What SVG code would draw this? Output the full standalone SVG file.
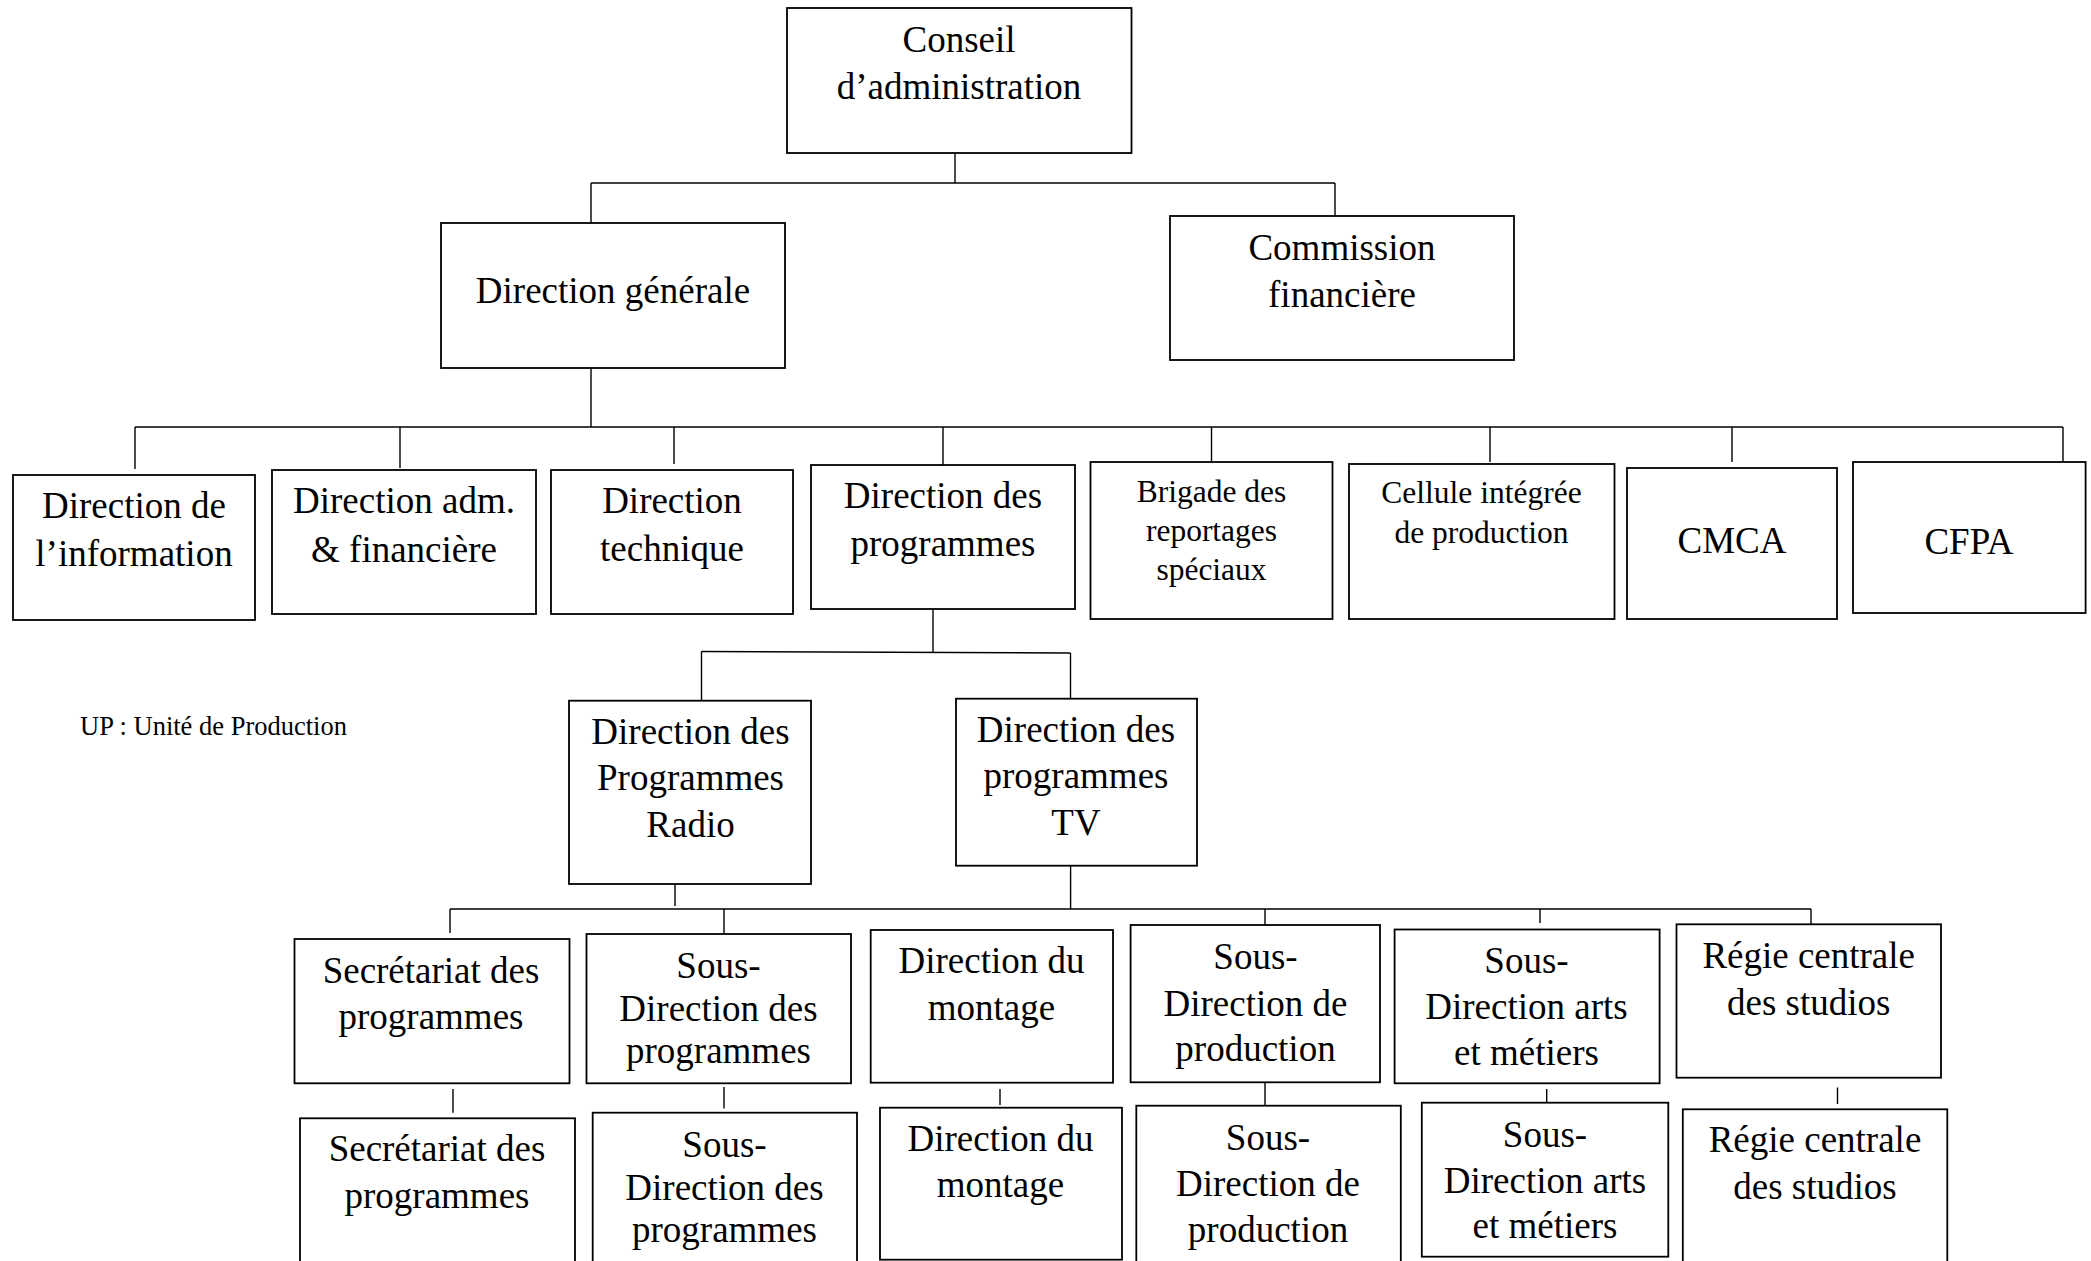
<svg xmlns="http://www.w3.org/2000/svg" width="2091" height="1261" viewBox="0 0 2091 1261">
<style>
.b{fill:#fff;stroke:#000;stroke-width:1.8}
.c line{stroke:#000;stroke-width:1.4}
text{font-family:"Liberation Serif","Times New Roman",serif;fill:#000}
.t{font-size:37px;text-anchor:middle}
.s{font-size:31.5px;text-anchor:middle}
.n{font-size:26.5px}
</style>
<rect width="2091" height="1261" fill="#fff"/>
<g class="c" id="connectors">
<line x1="955" y1="153" x2="955" y2="183"/>
<line x1="591" y1="183" x2="1335" y2="183"/>
<line x1="591" y1="183" x2="591" y2="223"/>
<line x1="1335" y1="183" x2="1335" y2="216"/>
<line x1="591" y1="368" x2="591" y2="427"/>
<line x1="135" y1="427" x2="2063" y2="427"/>
<line x1="135" y1="427" x2="135" y2="469"/>
<line x1="400" y1="427" x2="400" y2="468"/>
<line x1="674" y1="427" x2="674" y2="464"/>
<line x1="943" y1="427" x2="943" y2="465"/>
<line x1="1211.5" y1="427" x2="1211.5" y2="462"/>
<line x1="1490" y1="427" x2="1490" y2="462"/>
<line x1="1732" y1="427" x2="1732" y2="462"/>
<line x1="2063" y1="427" x2="2063" y2="462"/>
<line x1="933" y1="609" x2="933" y2="652"/>
<line x1="701.5" y1="651.5" x2="1070.5" y2="653"/>
<line x1="701.5" y1="651.5" x2="701.5" y2="700.7"/>
<line x1="1070.5" y1="653" x2="1070.5" y2="698.7"/>
<line x1="675" y1="884" x2="675" y2="906"/>
<line x1="1070.6" y1="866" x2="1070.6" y2="909"/>
<line x1="450" y1="909" x2="1811" y2="909"/>
<line x1="450" y1="909" x2="450" y2="933"/>
<line x1="724" y1="909" x2="724" y2="934"/>
<line x1="1265" y1="909" x2="1265" y2="925"/>
<line x1="1540" y1="909" x2="1540" y2="923"/>
<line x1="1811" y1="909" x2="1811" y2="924"/>
<line x1="453" y1="1089" x2="453" y2="1112.7"/>
<line x1="724" y1="1087" x2="724" y2="1108.5"/>
<line x1="1000" y1="1089" x2="1000" y2="1105"/>
<line x1="1265" y1="1082.3" x2="1265" y2="1105.7"/>
<line x1="1546.7" y1="1089" x2="1546.7" y2="1102.7"/>
<line x1="1837.5" y1="1087.5" x2="1837.5" y2="1104"/>
</g>
<g id="conseil"><rect class="b" x="787" y="8" width="344.5" height="145"/><text class="t" x="959" y="52">Conseil</text><text class="t" x="959" y="99">d’administration</text></g>
<g id="dg"><rect class="b" x="441" y="223" width="344" height="145"/><text class="t" x="613" y="303">Direction générale</text></g>
<g id="commission"><rect class="b" x="1170" y="216" width="344" height="144"/><text class="t" x="1342" y="260">Commission</text><text class="t" x="1342" y="307">financière</text></g>
<g id="info"><rect class="b" x="13" y="475" width="242" height="145"/><text class="t" x="134" y="518">Direction de</text><text class="t" x="134" y="566">l’information</text></g>
<g id="adm"><rect class="b" x="272" y="470" width="264" height="144"/><text class="t" x="404" y="513">Direction adm.</text><text class="t" x="404" y="562">&amp; financière</text></g>
<g id="tech"><rect class="b" x="551" y="470" width="242" height="144"/><text class="t" x="672" y="513">Direction</text><text class="t" x="672" y="561">technique</text></g>
<g id="prog"><rect class="b" x="811" y="465" width="264" height="144"/><text class="t" x="943" y="508">Direction des</text><text class="t" x="943" y="556">programmes</text></g>
<g id="brigade"><rect class="b" x="1090.5" y="462" width="242" height="157"/><text class="s" x="1211.5" y="502">Brigade des</text><text class="s" x="1211.5" y="541">reportages</text><text class="s" x="1211.5" y="580">spéciaux</text></g>
<g id="cellule"><rect class="b" x="1349" y="464" width="265.5" height="155"/><text class="s" x="1481.5" y="503">Cellule intégrée</text><text class="s" x="1481.5" y="543">de production</text></g>
<g id="cmca"><rect class="b" x="1627" y="468" width="210" height="151"/><text class="t" x="1732" y="553">CMCA</text></g>
<g id="cfpa"><rect class="b" x="1853" y="462" width="232.6" height="151"/><text class="t" x="1969" y="554">CFPA</text></g>
<g id="legend"><text class="n" x="80" y="735">UP : Unité de Production</text></g>
<g id="radio"><rect class="b" x="569" y="700.7" width="242" height="183.3"/><text class="t" x="690.5" y="744">Direction des</text><text class="t" x="690.5" y="790">Programmes</text><text class="t" x="690.5" y="837">Radio</text></g>
<g id="tv"><rect class="b" x="956" y="698.7" width="241" height="167"/><text class="t" x="1076" y="742">Direction des</text><text class="t" x="1076" y="788">programmes</text><text class="t" x="1076" y="835">TV</text></g>
<g id="secr"><rect class="b" x="294.5" y="939" width="275" height="144.3"/><text class="t" x="431" y="982.7">Secrétariat des</text><text class="t" x="431" y="1029.3">programmes</text></g>
<g id="sdprog"><rect class="b" x="586.5" y="934" width="264.5" height="149.3"/><text class="t" x="718.5" y="978.3">Sous-</text><text class="t" x="718.5" y="1020.7">Direction des</text><text class="t" x="718.5" y="1062.7">programmes</text></g>
<g id="montage"><rect class="b" x="870.7" y="930" width="242.3" height="152.7"/><text class="t" x="991.5" y="973.3">Direction du</text><text class="t" x="991.5" y="1020">montage</text></g>
<g id="sdprod"><rect class="b" x="1130.6" y="925" width="249.4" height="157.3"/><text class="t" x="1255.5" y="969">Sous-</text><text class="t" x="1255.5" y="1015.7">Direction de</text><text class="t" x="1255.5" y="1060.7">production</text></g>
<g id="sdarts"><rect class="b" x="1394.6" y="929.5" width="265" height="153.8"/><text class="t" x="1526.5" y="973.3">Sous-</text><text class="t" x="1526.5" y="1019">Direction arts</text><text class="t" x="1526.5" y="1065">et métiers</text></g>
<g id="regie"><rect class="b" x="1676.5" y="924.3" width="264.5" height="153.4"/><text class="t" x="1808.7" y="968.3">Régie centrale</text><text class="t" x="1808.7" y="1015">des studios</text></g>
<g id="secr2"><rect class="b" x="300" y="1118.3" width="275" height="160"/><text class="t" x="437" y="1160.7">Secrétariat des</text><text class="t" x="437" y="1208.3">programmes</text></g>
<g id="sdprog2"><rect class="b" x="592.7" y="1112.7" width="264.3" height="160"/><text class="t" x="724.5" y="1157.3">Sous-</text><text class="t" x="724.5" y="1200">Direction des</text><text class="t" x="724.5" y="1241.7">programmes</text></g>
<g id="montage2"><rect class="b" x="880" y="1107.7" width="242" height="152"/><text class="t" x="1000.5" y="1150.7">Direction du</text><text class="t" x="1000.5" y="1197.3">montage</text></g>
<g id="sdprod2"><rect class="b" x="1136.3" y="1105.7" width="264.5" height="165"/><text class="t" x="1268" y="1150">Sous-</text><text class="t" x="1268" y="1196">Direction de</text><text class="t" x="1268" y="1241.7">production</text></g>
<g id="sdarts2"><rect class="b" x="1421.8" y="1102.7" width="246.5" height="154"/><text class="t" x="1545" y="1146.7">Sous-</text><text class="t" x="1545" y="1192.7">Direction arts</text><text class="t" x="1545" y="1238.3">et métiers</text></g>
<g id="regie2"><rect class="b" x="1682.8" y="1109.3" width="264.5" height="165"/><text class="t" x="1815" y="1152.3">Régie centrale</text><text class="t" x="1815" y="1199.3">des studios</text></g>
</svg>
